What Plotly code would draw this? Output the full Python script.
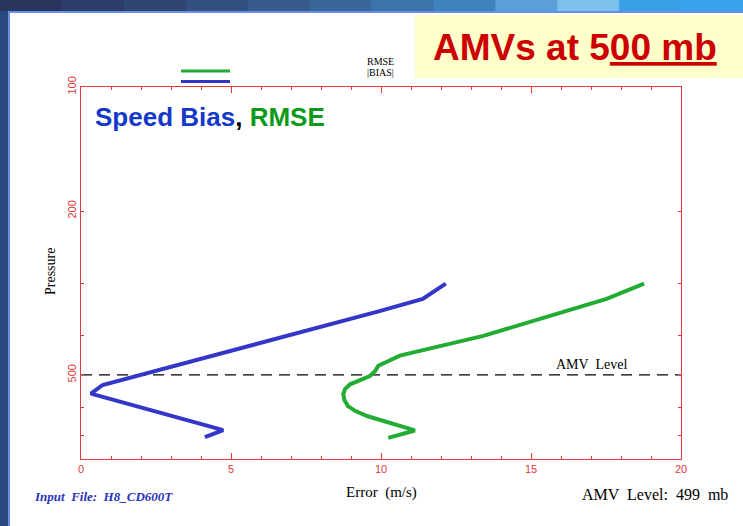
import plotly.graph_objects as go

# ---- data ----
bias_pressure = [300, 327, 350, 375, 400, 450, 500, 529, 555, 681, 708]
bias_error = [12.16, 11.39, 9.95, 8.43, 6.96, 4.37, 1.98, 0.72, 0.33, 4.74, 4.13]

rmse_pressure = [300, 327, 350, 375, 402, 425, 449, 475, 490, 503, 527, 541, 557, 575, 595, 612, 630, 682, 711]
rmse_error = [18.77, 17.52, 16.16, 14.78, 13.41, 12.0, 10.63, 9.91, 9.8, 9.63, 8.97, 8.8, 8.74, 8.78, 8.9, 9.15, 9.56, 11.13, 10.24]

amv_level = 500
x_range = [0, 20]
x_tickvals = [0, 5, 10, 15, 20]
y_tickvals = [100, 200, 300, 400, 500, 600, 700, 800]
y_ticktext = ["100", "200", "", "", "500", "", "", ""]

BLUE = "#3535c8"
GREEN = "#22ac34"
RED = "#e03a3a"
SERIF = "Liberation Serif"
SANS = "Liberation Sans"

fig = go.Figure()
fig.add_trace(go.Scatter(x=x_range, y=[amv_level, amv_level], mode="lines",
                         line=dict(color="black", width=1.2, dash="11px,7px"),
                         hoverinfo="skip", showlegend=False))
fig.add_trace(go.Scatter(x=rmse_error, y=rmse_pressure, mode="lines", name="RMSE",
                         line=dict(color=GREEN, width=4), showlegend=False))
fig.add_trace(go.Scatter(x=bias_error, y=bias_pressure, mode="lines", name="|BIAS|",
                         line=dict(color=BLUE, width=4), showlegend=False))

L, R, T, B = 81, 62, 87, 67
W, H = 743, 526
PW, PH = W - L - R, H - T - B


def px(xp):
    return (xp - L) / PW


def py(yp):
    return (H - B - yp) / PH


shapes = []
# slide frame: top gradient bar
top_cols = ["#28365e", "#2b3d68", "#2f4673", "#33507f", "#375b8c", "#3a679a",
            "#3c74aa", "#3e82bb", "#5b9fd8", "#7cc0ee", "#3a9fe6", "#38a4ec"]
n = len(top_cols)
for i, c in enumerate(top_cols):
    shapes.append(dict(type="rect", xref="paper", yref="paper",
                       x0=px(i * W / n), x1=px((i + 1) * W / n + 1), y0=py(11), y1=py(0),
                       fillcolor=c, line=dict(width=0), layer="below"))
shapes.append(dict(type="rect", xref="paper", yref="paper", x0=px(0), x1=px(W), y0=py(13), y1=py(11),
                   fillcolor="#6a8ee8", line=dict(width=0), layer="below"))
# left strip
shapes.append(dict(type="rect", xref="paper", yref="paper", x0=px(0), x1=px(8), y0=py(H), y1=py(11),
                   fillcolor="#2c4880", line=dict(width=0), layer="below"))
shapes.append(dict(type="rect", xref="paper", yref="paper", x0=px(8), x1=px(10), y0=py(H), y1=py(13),
                   fillcolor="#6a8ee8", line=dict(width=0), layer="below"))
# yellow title box
shapes.append(dict(type="rect", xref="paper", yref="paper", x0=px(415), x1=px(W), y0=py(78), y1=py(15),
                   fillcolor="#ffffcc", line=dict(width=0), layer="below"))
# legend swatches
shapes.append(dict(type="line", xref="paper", yref="paper", x0=px(181), x1=px(230), y0=py(71), y1=py(71),
                   line=dict(color=GREEN, width=3)))
shapes.append(dict(type="line", xref="paper", yref="paper", x0=px(181), x1=px(230), y0=py(81.5), y1=py(81.5),
                   line=dict(color=BLUE, width=3)))

annotations = [
    dict(text="AMVs at 5<u>00 mb</u>", xref="paper", yref="paper", x=px(575), y=py(47),
         xanchor="center", yanchor="middle", showarrow=False,
         font=dict(family=SANS, size=37, color="#cc0000", weight="bold")),
    dict(text="<span style='color:#1438c8'>Speed Bias</span>, <span style='color:#0c9a18'>RMSE</span>",
         xref="paper", yref="paper", x=px(93), y=py(117), xanchor="left", yanchor="middle",
         showarrow=False, font=dict(family=SANS, size=26, color="black", weight="bold")),
    dict(text="RMSE", xref="paper", yref="paper", x=px(380), y=py(61), xanchor="center", yanchor="middle",
         showarrow=False, font=dict(family=SERIF, size=10, color="black")),
    dict(text="|BIAS|", xref="paper", yref="paper", x=px(380), y=py(72), xanchor="center", yanchor="middle",
         showarrow=False, font=dict(family=SERIF, size=10, color="black")),
    dict(text="AMV  Level", xref="x", yref="y", x=17.0, y=2.699, xanchor="center", yanchor="bottom",
         yshift=1, showarrow=False, font=dict(family=SERIF, size=14, color="black")),
    dict(text="Pressure", xref="paper", yref="paper", x=px(50), y=py(272), textangle=-90,
         xanchor="center", yanchor="middle", showarrow=False,
         font=dict(family=SERIF, size=14, color="black")),
    dict(text="Error  (m/s)", xref="paper", yref="paper", x=px(381), y=py(493),
         xanchor="center", yanchor="middle", showarrow=False,
         font=dict(family=SERIF, size=15, color="black")),
    dict(text="<i>Input  File:  H8_CD600T</i>", xref="paper", yref="paper", x=px(32), y=py(497),
         xanchor="left", yanchor="middle", showarrow=False,
         font=dict(family=SERIF, size=13, color="#2a34b8", weight="bold")),
    dict(text="AMV  Level:  499  mb", xref="paper", yref="paper", x=px(730), y=py(495),
         xanchor="right", yanchor="middle", showarrow=False,
         font=dict(family=SERIF, size=16, color="black")),
]

fig.update_layout(
    width=W, height=H,
    margin=dict(l=L, r=R, t=T, b=B),
    paper_bgcolor="white", plot_bgcolor="white",
    showlegend=False,
    shapes=shapes,
    annotations=annotations,
    xaxis=dict(range=x_range, tickvals=x_tickvals, ticks="inside", ticklen=6, tickwidth=1,
               tickcolor=RED, showline=True, linecolor=RED, linewidth=1, mirror="allticks",
               showgrid=False, zeroline=False,
               tickfont=dict(family=SANS, size=11, color=RED),
               minor=dict(dtick=1, ticks="inside", ticklen=3, tickcolor=RED, showgrid=False)),
    yaxis=dict(type="log", range=[2.90309, 2.0], tickvals=y_tickvals, ticktext=y_ticktext,
               ticks="inside", ticklen=3, tickwidth=1, tickcolor=RED, tickangle=-90,
               showline=True, linecolor=RED, linewidth=1, mirror="allticks",
               showgrid=False, zeroline=False,
               tickfont=dict(family=SANS, size=11, color=RED)),
)

fig.write_html("out.html", config={"displayModeBar": False},
               post_script="document.body.style.margin='0';document.body.style.overflow='hidden';")
